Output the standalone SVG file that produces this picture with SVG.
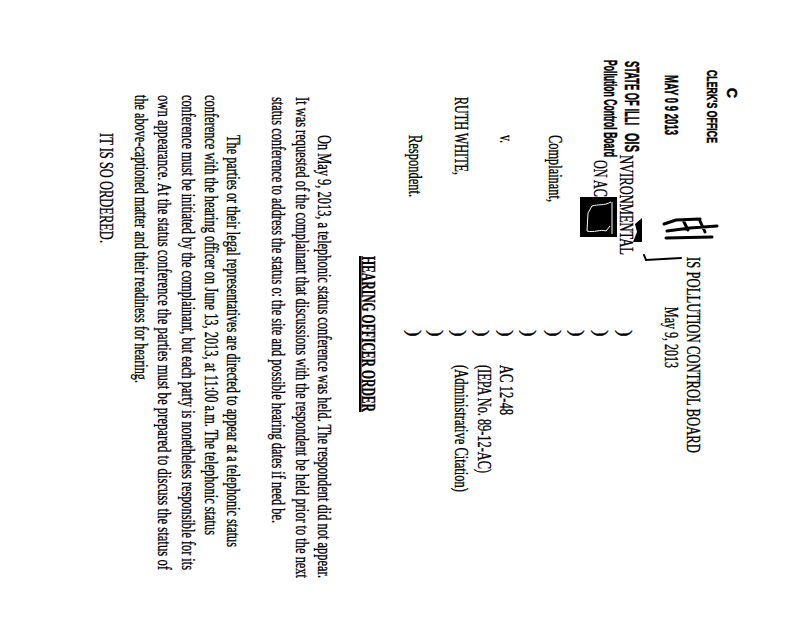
<svg xmlns="http://www.w3.org/2000/svg" width="800" height="618" viewBox="0 0 800 618">
<style>
.t{font-family:"Liberation Serif","Times New Roman",serif;font-size:19.5px;fill:#000;stroke:#000;stroke-width:0.35px}
.hb{font-weight:bold}
.s{font-family:"Liberation Sans",Arial,sans-serif;font-weight:bold;fill:#000;stroke:#000;stroke-width:0.5px}
.ink{fill:none;stroke:#000;stroke-linecap:round}
</style>
<rect width="800" height="618" fill="#fff"/>
<g id="stamp-marks">
  <rect x="580" y="197" width="37" height="40" fill="#000"/>
  <path d="M611,202 C604,206 598,204 592,206 L588,213 L587,231 C594,233 600,229 606,231 L610,226" fill="none" stroke="#fff" stroke-width="1"/>
  <path d="M612,202 L612,234" stroke="#fff" stroke-width="1"/>
  <polygon points="642,218 642,242 633,242 637,232 635,224" fill="#000"/>
  <path class="ink" stroke-width="3" d="M664,224 L676,220 L700,219 M667,231 L690,228 L717,226 M666,238 L712,237 M683,220 L688,230 M700,221 L705,232"/>
  <path class="ink" stroke-width="2" d="M681,258 L646,260 L644,255"/>
</g>
<g id="underline"><rect x="359" y="256" width="2.5" height="156" fill="#000"/></g>
<g id="texts" transform="rotate(90)">
  <text class="s" x="88" y="-727" font-size="14" textLength="10" lengthAdjust="spacingAndGlyphs">C</text>
  <text class="s" x="70" y="-707" font-size="15" textLength="73" lengthAdjust="spacingAndGlyphs">CLERK'S OFFICE</text>
  <text class="s" x="75" y="-665" font-size="18" textLength="60" lengthAdjust="spacingAndGlyphs">MAY 0 9 2013</text>
  <text class="s" x="61" y="-625" font-size="20" textLength="64" lengthAdjust="spacingAndGlyphs">STATE OF ILLI</text>
  <text class="s" x="133" y="-625" font-size="20" textLength="19" lengthAdjust="spacingAndGlyphs">OIS</text>
  <text class="s" x="60" y="-604" font-size="19" textLength="97" lengthAdjust="spacingAndGlyphs">Pollution Control Board</text>
  <text class="t" x="155" y="-620" textLength="100" lengthAdjust="spacingAndGlyphs">NVIRONMENTAL</text>
  <text class="t" x="160" y="-594" textLength="37" lengthAdjust="spacingAndGlyphs">ON AC</text>

  <text class="t" x="257" y="-687" textLength="196" lengthAdjust="spacingAndGlyphs">IS POLLUTION CONTROL BOARD</text>
  <text class="t" x="307" y="-665" textLength="61" lengthAdjust="spacingAndGlyphs">May 9, 2013</text>

  <text class="t" x="135" y="-549" textLength="67" lengthAdjust="spacingAndGlyphs">Complainant,</text>
  <text class="t" x="135" y="-500" textLength="8" lengthAdjust="spacingAndGlyphs">v.</text>
  <text class="t" x="97" y="-455" textLength="78" lengthAdjust="spacingAndGlyphs">RUTH WHITE,</text>
  <text class="t" x="135" y="-409" textLength="62" lengthAdjust="spacingAndGlyphs">Respondent.</text>
  <text class="t" x="365" y="-500" textLength="50" lengthAdjust="spacingAndGlyphs">AC 12-48</text>
  <text class="t" x="365" y="-478" textLength="108" lengthAdjust="spacingAndGlyphs">(IEPA No. 89-12-AC)</text>
  <text class="t" x="365" y="-455" textLength="127" lengthAdjust="spacingAndGlyphs">(Administrative Citation)</text>

  <g id="parens">
    <text class="t" x="330" y="-619">)</text>
    <text class="t" x="330" y="-595">)</text>
    <text class="t" x="330" y="-571">)</text>
    <text class="t" x="330" y="-548">)</text>
    <text class="t" x="330" y="-523">)</text>
    <text class="t" x="330" y="-500">)</text>
    <text class="t" x="330" y="-476">)</text>
    <text class="t" x="330" y="-453">)</text>
    <text class="t" x="330" y="-430">)</text>
    <text class="t" x="330" y="-408">)</text>
  </g>

  <text class="t hb" x="256" y="-362" textLength="156" lengthAdjust="spacingAndGlyphs">HEARING OFFICER ORDER</text>

  <text class="t" x="135" y="-318" textLength="443" lengthAdjust="spacingAndGlyphs">On May 9, 2013, a telephonic status conference was held.  The respondent did not appear.</text>
  <text class="t" x="97" y="-296" textLength="481" lengthAdjust="spacingAndGlyphs">It was requested of the complainant that discussions with the respondent be held prior to the next</text>
  <text class="t" x="97" y="-272" textLength="426" lengthAdjust="spacingAndGlyphs">status conference to address the status o: the site and possible hearing dates if need be.</text>

  <text class="t" x="135" y="-227" textLength="412" lengthAdjust="spacingAndGlyphs">The parties or their legal representatives are directed to appear at a telephonic status</text>
  <text class="t" x="95" y="-205" textLength="440" lengthAdjust="spacingAndGlyphs">conference with the hearing officer on June 13, 2013, at 11:00 a.m. The telephonic status</text>
  <text class="t" x="95" y="-182" textLength="475" lengthAdjust="spacingAndGlyphs">conference must be initiated by the complainant, but each party is nonetheless responsible for its</text>
  <text class="t" x="95" y="-158" textLength="475" lengthAdjust="spacingAndGlyphs">own appearance.  At the status conference the parties must be prepared to discuss the status of</text>
  <text class="t" x="95" y="-135" textLength="288" lengthAdjust="spacingAndGlyphs">the above-captioned matter and their readiness for hearing.</text>

  <text class="t" x="133" y="-100" textLength="110" lengthAdjust="spacingAndGlyphs">IT IS SO ORDERED.</text>
</g>
</svg>
